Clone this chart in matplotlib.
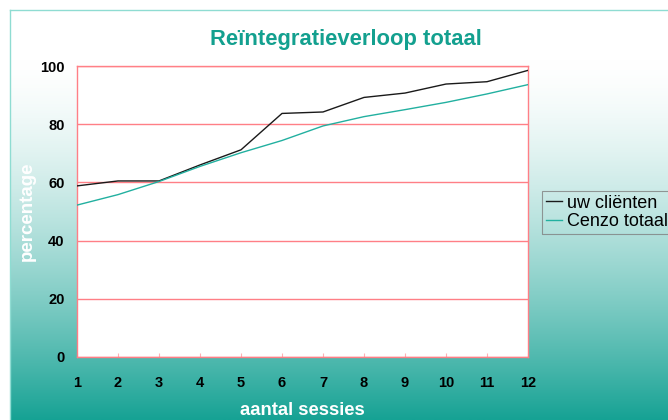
import numpy as np
import matplotlib
matplotlib.use("Agg")
import matplotlib.pyplot as plt

sessions = list(range(1, 13))
uw_clienten = [58.8, 60.5, 60.5, 66.0, 71.2, 83.7, 84.2, 89.2, 90.7, 93.8, 94.6, 98.5]
cenzo_totaal = [52.2, 55.8, 60.3, 65.5, 70.2, 74.4, 79.4, 82.6, 85.0, 87.5, 90.4, 93.6]
y_ticks = [0, 20, 40, 60, 80, 100]

W, H = 668, 420
fig = plt.figure(figsize=(W / 100, H / 100), dpi=100)
fig.patch.set_facecolor("white")

plt.rcParams['font.family'] = ['Liberation Sans', 'DejaVu Sans']

# background gradient inside frame
fx0, fy_top = 10, 9.5
bg = fig.add_axes([fx0 / W, 0, 1 - fx0 / W + 0.05, (H - fy_top) / H], zorder=0)
n = 400
yy = np.linspace(fy_top, H, n)
t = np.clip((yy - 60) / (H - 60), 0, 1) ** 1.5
top = np.array([1.0, 1.0, 1.0])
bot = np.array([22, 162, 148]) / 255
grad = top[None, :] * (1 - t[:, None]) + bot[None, :] * t[:, None]
bg.imshow(grad[:, None, :], aspect='auto', extent=[0, 1, 0, 1], origin='upper')
bg.set_xlim(0, 1)
bg.set_ylim(0, 1)
bg.set_xticks([])
bg.set_yticks([])
for s in ['right', 'bottom']:
    bg.spines[s].set_visible(False)
for s in ['left', 'top']:
    bg.spines[s].set_color('#8fdcd2')
    bg.spines[s].set_linewidth(1)

# main axes
left, right, top_px, bottom_px = 77, 528, 66, 357
ax = fig.add_axes([left / W, (H - bottom_px) / H, (right - left) / W, (bottom_px - top_px) / H], zorder=2)
ax.set_facecolor('white')
red = '#ff7f86'
ax.plot(sessions, uw_clienten, color='#1a1a1a', lw=1.0, label='uw cliënten', zorder=3)
ax.plot(sessions, cenzo_totaal, color='#22b0a0', lw=1.0, label='Cenzo totaal', zorder=3)
ax.set_xlim(1, 12)
ax.set_ylim(0, 100)
ax.set_xticks(sessions)
ax.set_yticks(y_ticks)
ax.yaxis.grid(True, color=red, lw=1.0)
ax.set_axisbelow(True)
for s in ax.spines.values():
    s.set_color(red)
    s.set_linewidth(1.0)
ax.tick_params(axis='x', direction='in', length=3, color='#ffb0b5', pad=14,
               labelsize=10.5, labelcolor='black')
ax.tick_params(axis='y', length=0, pad=9, labelsize=10.5, labelcolor='black')
for lab in ax.get_xticklabels() + ax.get_yticklabels():
    lab.set_fontweight('bold')

ax.set_xlabel('aantal sessies', color='white', fontsize=13.3, fontweight='bold', labelpad=8)
ax.set_ylabel('percentage', color='white', fontsize=13.5, fontweight='bold', labelpad=3)

fig.text(346 / W, 1 - 40 / H, 'Reïntegratieverloop totaal', ha='center', va='center',
         color='#13a08f', fontsize=15.8, fontweight='bold')

leg = fig.legend(loc='upper left', bbox_to_anchor=(542 / W, 1 - 191 / H), frameon=True,
                 fontsize=13, handlelength=0.9, handletextpad=0.3, borderpad=0.2,
                 labelspacing=0.1, borderaxespad=0, fancybox=False)
leg.get_frame().set_facecolor('none')
leg.get_frame().set_edgecolor('#808080')
leg.get_frame().set_linewidth(0.8)

fig.savefig('out.png', dpi=100)
